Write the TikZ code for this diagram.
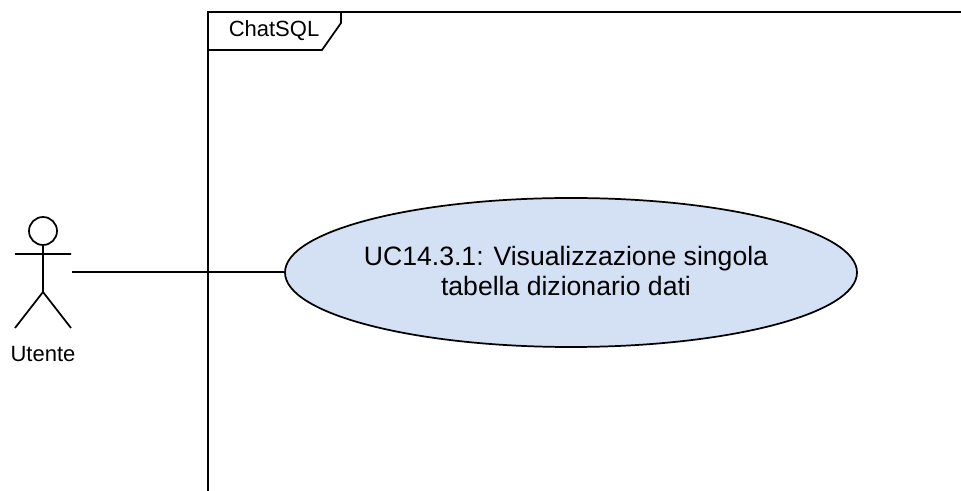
\documentclass[tikz,border=0pt]{standalone}
\usepackage{fontspec}
\setmainfont{Liberation Sans}
\usetikzlibrary{shapes.geometric}
\newdimen\pxu \pxu=0.75pt
\definecolor{ucblue}{HTML}{D4E1F5}
\tikzset{ln/.style={draw=black,line width=1.3pt},
small/.style={font=\fontsize{16.5pt}{20pt}\selectfont},
usecase/.style={ellipse,draw=black,line width=1.3pt,fill=ucblue,minimum width=572\pxu,minimum height=149\pxu,inner sep=0pt},
uctext/.style={align=center,inner sep=0pt,font=\fontsize{26.6\pxu}{30\pxu}\selectfont}}
\begin{document}
\begin{tikzpicture}[x=0.75pt,y=-0.75pt]
\useasboundingbox (0,0) rectangle (961,491);
\fill[white] (0,0) rectangle (961,491);
\coordinate (tl) at (208,491);
\coordinate (tt) at (208,12);
\coordinate (tr) at (961,12);
\draw[ln] (tl) -- (tt) -- (tr);
\node[small] (sys) at (274,31) {ChatSQL};
\coordinate (a) at (341,12);
\coordinate (b) at (341,23);
\coordinate (c) at (322,50);
\coordinate (d) at (208,50);
\draw[ln] (a) -- (b) -- (c) -- (d);
\node[usecase] (uc) at (571,272.5) {};
\node[uctext] (uctxt) at (566,271) {UC14.3.1: Visualizzazione singola\\tabella dizionario dati};
\coordinate (act) at (72,272);
\draw[ln] (act) -- (uc.west |- act);
\node[circle,draw=black,line width=1.3pt,minimum size=28\pxu,inner sep=0pt] (head) at (43,231) {};
\coordinate (body) at (43,292);
\coordinate (armL) at (15,254);
\coordinate (armR) at (71,254);
\coordinate (legL) at (15,328);
\coordinate (legR) at (71,328);
\draw[ln] (head) -- (body) (armL) -- (armR) (legL) -- (body) -- (legR);
\node[small] (lab) at (43,354) {Utente};
\end{tikzpicture}
\end{document}
